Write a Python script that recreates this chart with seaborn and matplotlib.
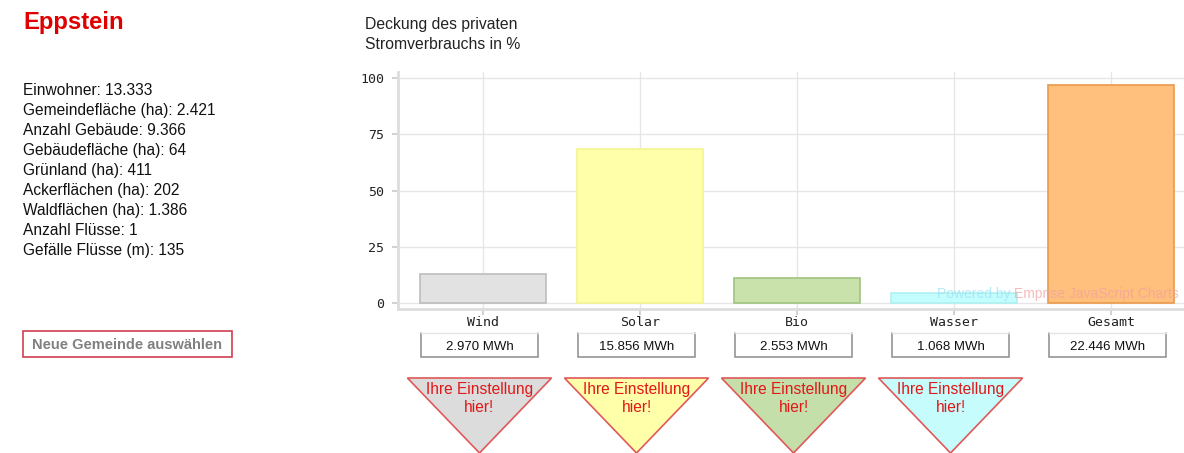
import numpy as np
import pandas as pd
import matplotlib
matplotlib.use('Agg')
import matplotlib.pyplot as plt
from matplotlib.patches import Rectangle, Polygon
import seaborn as sns

# data
gemeinde = "Eppstein"
info_lines = ["Einwohner: 13.333", "Gemeindefläche (ha): 2.421", "Anzahl Gebäude: 9.366",
              "Gebäudefläche (ha): 64", "Grünland (ha): 411", "Ackerflächen (ha): 202",
              "Waldflächen (ha): 1.386", "Anzahl Flüsse: 1", "Gefälle Flüsse (m): 135"]
categories = ["Wind", "Solar", "Bio", "Wasser", "Gesamt"]
percent = [12.8, 68.5, 11.0, 4.6, 97.0]
mwh_labels = ["2.970 MWh", "15.856 MWh", "2.553 MWh", "1.068 MWh", "22.446 MWh"]
y_ticks = [0, 25, 50, 75, 100]

bar_colors = ["#e2e2e2", "#ffffaa", "#c9e1aa", "#c4fdfd", "#ffbf7d"]
bar_edges = ["#bdbdbd", "#f4f490", "#9fc47f", "#b0f0f0", "#eb9a4a"]
tri_colors = ["#dcdcdc", "#ffffaa", "#c4dfaa", "#c6fcfc"]

W, H = 1184, 453
sns.set_theme(style="white")
plt.rcParams['font.family'] = ['Liberation Sans', 'DejaVu Sans']

fig = plt.figure(figsize=(W / 100, H / 100), dpi=100)

def fx(px):
    return px / W

def fy(py):
    return 1 - py / H

# left panel
fig.text(fx(23), fy(29), gemeinde, color="#e00000", fontsize=17.2, fontweight="bold", va="baseline")
for i, line in enumerate(info_lines):
    fig.text(fx(23), fy(95 + 20 * i), line, color="#111111", fontsize=11.2, va="baseline")
fig.patches.append(Rectangle((fx(23), fy(357)), fx(232) - fx(23), fy(331) - fy(357),
                             transform=fig.transFigure, facecolor="white",
                             edgecolor="#d04050", linewidth=1.2))
fig.text(fx(127), fy(349), "Neue Gemeinde auswählen", color="#808080", fontsize=10.5,
         fontweight="bold", ha="center", va="baseline")

# chart title
fig.text(fx(365), fy(29), "Deckung des privaten", color="#222222", fontsize=11.3, va="baseline")
fig.text(fx(365), fy(49), "Stromverbrauchs in %", color="#222222", fontsize=11.3, va="baseline")

# main bar chart
ax = fig.add_axes([fx(398), fy(309), fx(1184) - fx(398), (309 - 72) / H])
df = pd.DataFrame({"cat": categories, "pct": percent})
sns.barplot(data=df, x="cat", y="pct", hue="cat", palette=bar_colors, legend=False,
            saturation=1, width=0.8, ax=ax, zorder=2)
for patch, ec in zip(ax.patches, bar_edges):
    patch.set_edgecolor(ec)
    patch.set_linewidth(1.2)
ax.set_xlim(-0.541, 4.465)
ax.set_ylim(-2.67, 102.7)
ax.set_yticks(y_ticks)
ax.set_yticklabels([str(t) for t in y_ticks], family="DejaVu Sans Mono", fontsize=9.5, color="#222222")
ax.set_xticklabels([])
ax.set_xlabel("")
ax.set_ylabel("")
ax.grid(True, color="#e6e6e6", linewidth=1, zorder=0)
ax.set_axisbelow(True)
for s in ["top", "right"]:
    ax.spines[s].set_visible(False)
for s in ["left", "bottom"]:
    ax.spines[s].set_color("#dddddd")
    ax.spines[s].set_linewidth(2)
ax.tick_params(axis="y", length=4, color="#cccccc", pad=6, left=True)
ax.tick_params(axis="x", length=4, color="#cccccc", bottom=True)
wm1 = ax.text((937 - 398) / 786, 0.035, "Powered by ", transform=ax.transAxes,
              ha="left", va="bottom", fontsize=10, color="#9fe4f4", alpha=0.8, zorder=3)
ax.annotate("Emprise JavaScript Charts", xy=(1, 0), xycoords=wm1, ha="left", va="bottom",
            fontsize=10, color="#f0a0a0", alpha=0.7, zorder=3)

# lower panel: labels, value boxes, triangles (x in category units, y in pixels)
ax2 = fig.add_axes([fx(398), 0, fx(1184) - fx(398), (H - 309) / H])
ax2.set_xlim(-0.541, 4.465)
ax2.set_ylim(H, 309)
ax2.axis("off")
shift = -0.022
for i, cat in enumerate(categories):
    ax2.text(i, 322.5, cat, ha="center", va="center", family="DejaVu Sans Mono",
             fontsize=9.5, color="#222222")
    c = i + shift
    ax2.plot([c - 0.375, c - 0.375, c + 0.375, c + 0.375], [333, 357, 357, 333],
             color="#8c8c8c", linewidth=1.1, solid_joinstyle="miter")
    ax2.plot([c - 0.375, c + 0.375], [333, 333], color="#e4e4e4", linewidth=1)
    ax2.text(c, 346.5, mwh_labels[i], ha="center", va="center", fontsize=9.5, color="#111111")
for i, col in enumerate(tri_colors):
    c = i + shift
    ax2.add_patch(Polygon([(c - 0.459, 378), (c + 0.459, 378), (c, H)], closed=True,
                          facecolor=col, edgecolor="#e05858", linewidth=1.2))
    ax2.text(c, 389, "Ihre Einstellung", ha="center", va="center", fontsize=11.2, color="#e01818")
    ax2.text(c, 407, "hier!", ha="center", va="center", fontsize=11.2, color="#e01818")

fig.savefig("out.png", dpi=100)
